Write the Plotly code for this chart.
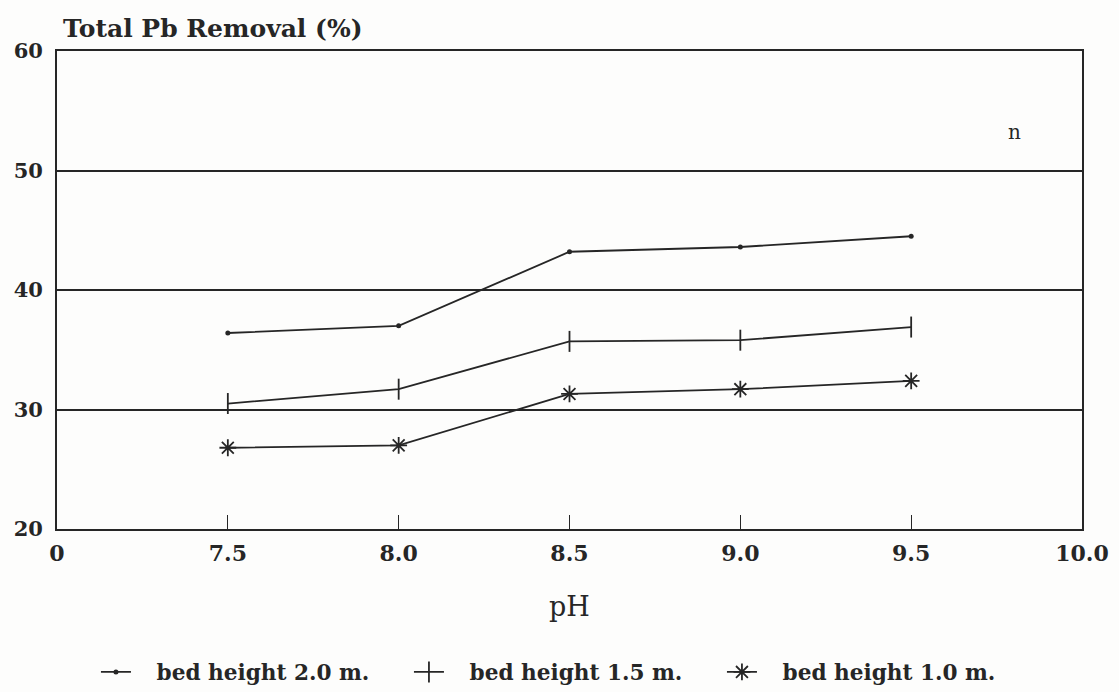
import plotly.graph_objects as go

# pH categories along the x axis (edge labels 0 and 10.0 frame the data)
ph_axis = ["0", "7.5", "8.0", "8.5", "9.0", "9.5", "10.0"]
ph = ["7.5", "8.0", "8.5", "9.0", "9.5"]

# Total Pb removal (%) for each bed height
removal_2_0 = [36.4, 37.0, 43.2, 43.6, 44.5]
removal_1_5 = [30.5, 31.7, 35.7, 35.8, 36.9]
removal_1_0 = [26.8, 27.0, 31.3, 31.7, 32.4]

FONT = "DejaVu Serif"
INK = "#262626"
PAD = "&nbsp;&nbsp;&nbsp;"

fig = go.Figure()

fig.add_trace(go.Scatter(
    x=ph, y=removal_2_0, mode="lines+markers", name=PAD + "<b>bed height 2.0 m.</b>",
    line=dict(color=INK, width=1.8),
    marker=dict(symbol="circle", size=5, color=INK),
))
fig.add_trace(go.Scatter(
    x=ph, y=removal_1_5, mode="lines+markers", name=PAD + "<b>bed height 1.5 m.</b>",
    line=dict(color=INK, width=1.8),
    marker=dict(symbol="line-ns", size=15, color=INK, line=dict(color=INK, width=1.8)),
))
fig.add_trace(go.Scatter(
    x=ph, y=removal_1_0, mode="lines+markers", name=PAD + "<b>bed height 1.0 m.</b>",
    line=dict(color=INK, width=1.8),
    marker=dict(symbol="asterisk", size=14, color=INK, line=dict(color=INK, width=1.8)),
))

fig.update_xaxes(
    type="category", categoryorder="array", categoryarray=ph_axis,
    range=[0, 6], showgrid=False, zeroline=False, automargin=False,
    showline=True, linecolor=INK, linewidth=1.8, mirror=True,
    ticks="inside", ticklen=14, tickwidth=1.3, tickcolor=INK,
    tickfont=dict(family=FONT, size=22, color=INK, weight="bold"),
    ticklabelstandoff=4,
    title=dict(text="pH", font=dict(family=FONT, size=27, color=INK), standoff=32),
)
fig.update_yaxes(
    range=[20, 60], dtick=10, tick0=20,
    showgrid=True, gridcolor=INK, gridwidth=1.6, zeroline=False, automargin=False,
    showline=True, linecolor=INK, linewidth=1.8, mirror=True,
    ticks="", tickfont=dict(family=FONT, size=21, color=INK, weight="bold"),
    ticklabelstandoff=8,
)

fig.add_annotation(
    text="<b>Total Pb Removal (%)</b>", xref="paper", yref="paper",
    x=0.004, y=1, xanchor="left", yanchor="bottom", yshift=6, showarrow=False,
    font=dict(family=FONT, size=25, color=INK),
)
fig.add_annotation(
    text="n", xref="paper", yref="paper", x=0.934, y=0.83,
    xanchor="center", yanchor="middle", showarrow=False,
    font=dict(family=FONT, size=20, color=INK),
)

fig.update_layout(
    width=1119, height=692,
    margin=dict(l=57, r=37, t=51, b=163, autoexpand=False),
    paper_bgcolor="#fdfdfc", plot_bgcolor="#fdfdfc",
    showlegend=True,
    legend=dict(
        orientation="h", x=0.038, xanchor="left", y=-0.30, yanchor="middle",
        font=dict(family=FONT, size=21.6, color=INK), bgcolor="rgba(0,0,0,0)",
        entrywidth=268, entrywidthmode="pixels", tracegroupgap=0,
    ),
)

fig.write_html("out.html")
